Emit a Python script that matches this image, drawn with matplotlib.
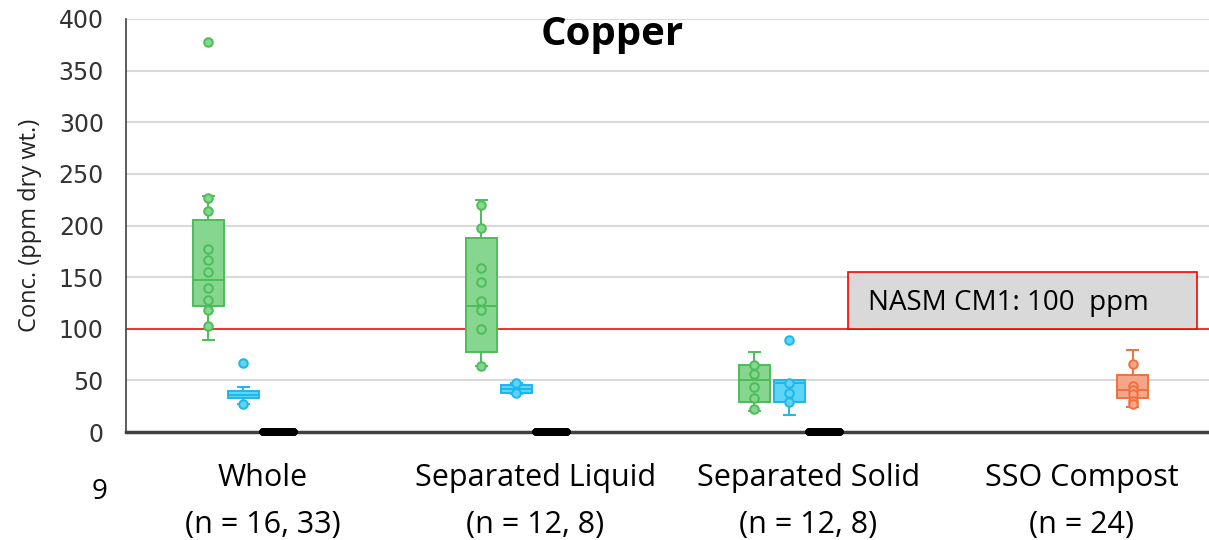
import matplotlib
matplotlib.use('Agg')
import matplotlib.pyplot as plt
from matplotlib.patches import Rectangle

plt.rcParams['font.family'] = ['Open Sans', 'DejaVu Sans']

# categories and labels
categories = ['Whole', 'Separated Liquid', 'Separated Solid', 'SSO Compost']
n_labels = ['(n = 16, 33)', '(n = 12, 8)', '(n = 12, 8)', '(n = 24)']

# box stats per series: [whislo, q1, med, q3, whishi] per category (None = no box)
green_stats = [[89, 122, 147, 205, 229], [64, 77, 122, 188, 225], [20, 29, 50, 65, 77], None]
green_points = [[378, 227, 214, 177, 167, 155, 139, 128, 118, 103],
                [220, 198, 159, 145, 127, 118, 100, 64],
                [65, 56, 44, 33, 22],
                []]
blue_stats = [[27, 33, 36, 40, 44], [37, 38, 42, 46, 47], [16, 29, 47, 50, 50], None]
blue_points = [[67, 27], [47, 38], [89, 47, 38, 29], []]
black_stats = [[0, 0, 0, 0, 0], [0, 0, 0, 0, 0], [0, 0, 0, 0, 0], None]
black_points = [[], [], [], []]
orange_stats = [None, None, None, [24, 33, 41, 55, 79]]
orange_points = [[], [], [], [66, 45, 41, 37, 30, 27]]

limit_value = 100
limit_label = 'NASM CM1: 100  ppm'

series = [
    (green_stats, green_points, -0.198, '#86d68f', '#4cbd58'),
    (blue_stats, blue_points, -0.07, '#5cd5f7', '#1fb6ea'),
    (black_stats, black_points, 0.059, '#000000', '#000000'),
    (orange_stats, orange_points, 0.187, '#f6a688', '#f0703e'),
]

fig = plt.figure(figsize=(12.09, 5.4), dpi=100)
ax = fig.add_axes([126 / 1209, 108 / 540, 1 - 126 / 1209, (432 - 19) / 540])

centers = [i + 0.5 for i in range(len(categories))]

for stats, points, off, fill, edge in series:
    for i, st in enumerate(stats):
        if st is None:
            continue
        d = dict(whislo=st[0], q1=st[1], med=st[2], q3=st[3], whishi=st[4], fliers=[])
        pos = centers[i] + off
        is_zero = max(st) == 0
        lw = 5.5 if is_zero else 1.4
        parts = ax.bxp([d], positions=[pos], widths=0.115, patch_artist=True, showfliers=False,
                       boxprops=dict(facecolor=fill, edgecolor=edge, linewidth=lw),
                       medianprops=dict(color=edge, linewidth=lw),
                       whiskerprops=dict(color=edge, linewidth=lw),
                       capprops=dict(color=edge, linewidth=lw),
                       capwidths=0.04 if not is_zero else 0.115,
                       manage_ticks=False, zorder=3)
        if is_zero:
            for arts in parts.values():
                for a in arts:
                    a.set_clip_on(False)
                    a.set_zorder(4)
                    try:
                        a.set_solid_capstyle('round')
                    except AttributeError:
                        pass
        if points[i]:
            ax.scatter([pos] * len(points[i]), points[i], s=38, facecolor=fill,
                       edgecolor=edge, linewidth=1.4, zorder=4)

ax.axhline(limit_value, color='#ff0000', linewidth=1.1, zorder=2)
x0 = (848 - 126) / 273
x1 = (1197 - 126) / 273
ax.add_patch(Rectangle((x0, limit_value), x1 - x0, 55, facecolor='#d9d9d9',
                       edgecolor='#ff0000', linewidth=1.2, zorder=5))
ax.text(x0 + 0.075, limit_value + 25, limit_label, fontsize=20, va='center',
        ha='left', zorder=6, color='#000000')

ax.set_xlim(0, 1083 / 273)
ax.set_ylim(0, 400)
ax.set_yticks(range(0, 401, 50))
ax.yaxis.grid(True, color='#d9d9d9', linewidth=1.5, zorder=0)
ax.set_axisbelow(True)
ax.tick_params(axis='y', length=0, pad=16, labelcolor='#333333')
for lab in ax.get_yticklabels():
    lab.set_fontfamily('DejaVu Sans')
    lab.set_fontsize(17)
ax.set_xticks(centers)
ax.set_xticklabels([c + '\n' + n for c, n in zip(categories, n_labels)],
                   fontsize=22, linespacing=1.75)
ax.tick_params(axis='x', length=0, pad=22)
ax.set_ylabel('Conc. (ppm dry wt.)', fontsize=17, labelpad=12, color='#222222')

for s in ['top', 'right']:
    ax.spines[s].set_visible(False)
ax.spines['left'].set_color('#404040')
ax.spines['left'].set_linewidth(1.2)
ax.spines['bottom'].set_color('#404040')
ax.spines['bottom'].set_linewidth(2.5)

fig.text(612 / 1209, 1 - 35 / 540, 'Copper', fontsize=29, fontweight='bold',
         ha='center', va='center')
fig.text(100 / 1209, 1 - 492 / 540, '9', fontsize=20, ha='center', va='center')

fig.savefig('out.png', dpi=100)
